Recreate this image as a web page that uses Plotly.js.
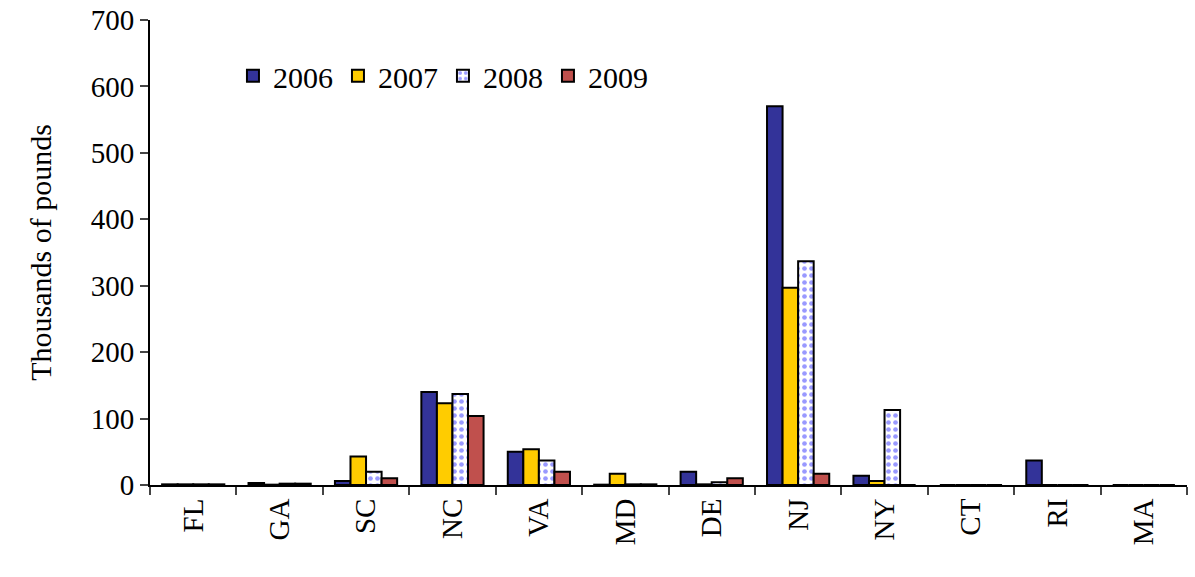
<!DOCTYPE html>
<html>
<head>
<script src="https://cdn.plot.ly/plotly-3.0.1.min.js"></script>
<style>body{margin:0;background:#fff}</style>
</head>
<body>
<div id="chart" style="width:1195px;height:577px"></div>
<script>
const states = ["FL", "GA", "SC", "NC", "VA", "MD", "DE", "NJ", "NY", "CT", "RI", "MA"];
const y2006 = [1, 3, 6, 140, 50, 0.5, 20, 570, 14, 0, 37, 0];
const y2007 = [1, 0.5, 43, 123, 54, 17, 1, 297, 6, 0, 0, 0];
const y2008 = [1, 2, 20, 137, 37, 1, 4, 337, 113, 0, 0, 0];
const y2009 = [1, 2, 10, 104, 20, 1, 10, 17, 0, 0, 0, 0];

const serif = 'Liberation Serif';
const line = { color: '#000', width: 2 };
const traces = [
  { name: '2006', y: y2006, marker: { color: '#333399', line: line } },
  { name: '2007', y: y2007, marker: { color: '#ffcc00', line: line } },
  { name: '2008', y: y2008, marker: { color: '#ffffff', line: line,
      pattern: { shape: '.', fgcolor: '#9999ff', bgcolor: '#ffffff', size: 7, solidity: 0.35 } } },
  { name: '2009', y: y2009, marker: { color: '#c0504d', line: line } }
].map(t => Object.assign({ type: 'bar', x: states }, t));

Plotly.newPlot('chart', traces, {
  width: 1195, height: 577,
  margin: { l: 150, r: 8, t: 20, b: 92 },
  barmode: 'group', bargap: 0.28, bargroupgap: 0,
  font: { family: serif, size: 29, color: '#000' },
  showlegend: true,
  legend: { orientation: 'h', x: 0.08, y: 0.88, xanchor: 'left', yanchor: 'middle',
    font: { family: serif, size: 30, color: '#000' }, itemwidth: 20, traceorder: 'normal' },
  xaxis: { showline: true, linecolor: '#000', linewidth: 2, ticks: 'outside',
    tickson: 'boundaries', ticklen: 8, tickwidth: 2, tickangle: -90, showgrid: false,
    tickfont: { family: serif, size: 29, color: '#000' } },
  yaxis: { range: [0, 700], dtick: 100, showline: true, linecolor: '#000', linewidth: 2,
    ticks: 'outside', ticklen: 8, tickwidth: 2, showgrid: false, zeroline: false,
    tickfont: { family: serif, size: 29, color: '#000' },
    title: { text: 'Thousands of pounds', font: { family: serif, size: 30, color: '#000' }, standoff: 30 } },
  plot_bgcolor: '#fff', paper_bgcolor: '#fff'
}, { displayModeBar: false });
</script>
</body>
</html>
